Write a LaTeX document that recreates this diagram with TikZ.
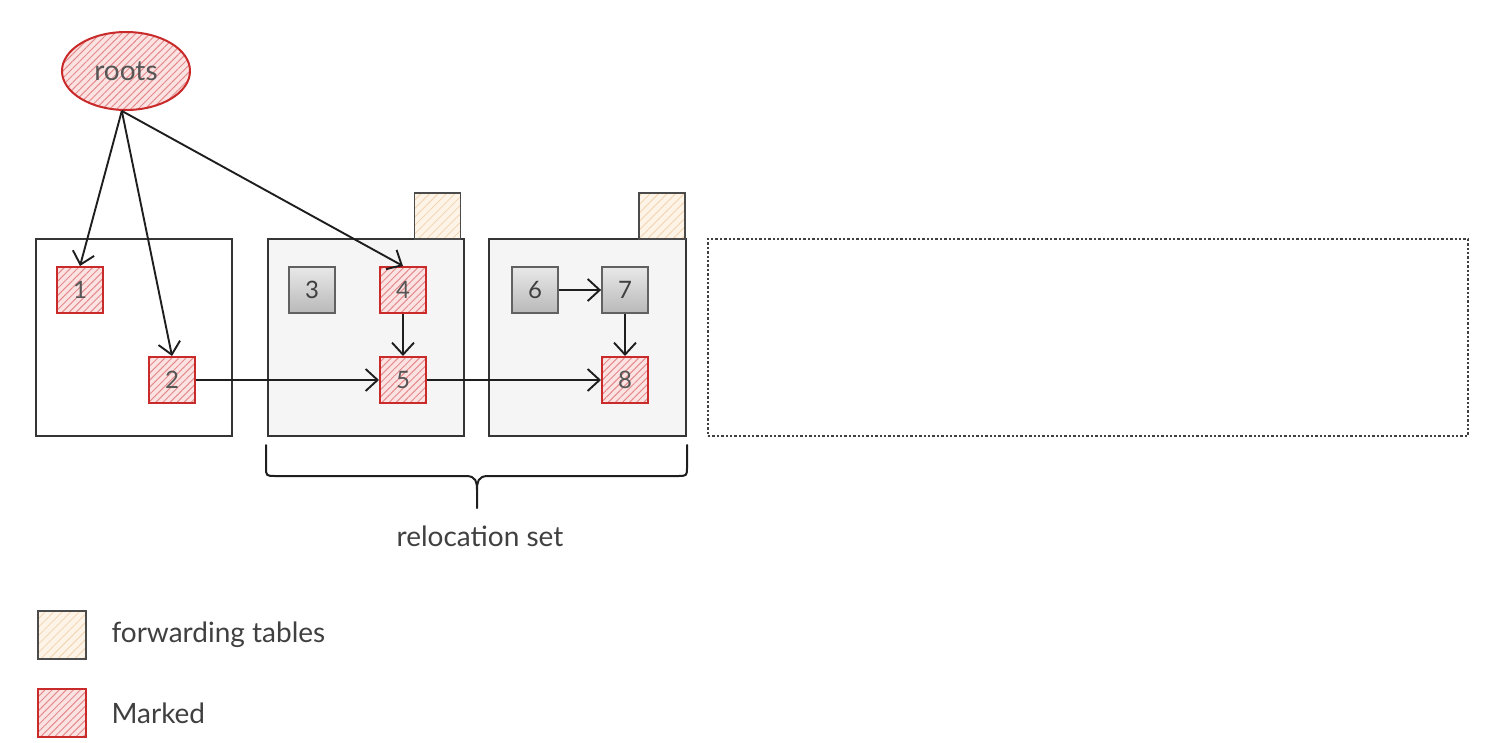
\documentclass[tikz,border=0pt]{standalone}
\usepackage{fontspec}
\setmainfont{Lato}
\usetikzlibrary{arrows.meta,patterns.meta,shapes.geometric}
\definecolor{mred}{HTML}{C92A2A}
\definecolor{mpink}{HTML}{FCE3E3}
\definecolor{hred}{HTML}{E58A8A}
\definecolor{dline}{HTML}{1E1E1E}
\definecolor{cream}{HTML}{FDF3E6}
\definecolor{hcream}{HTML}{F2D3B0}
\definecolor{lgray}{HTML}{F5F5F5}
\tikzset{
  redfill/.style={preaction={fill=mpink}, pattern={Lines[angle=45,distance=5pt,line width=1pt]}, pattern color=hred},
  marked/.style={redfill, draw=mred, line width=2pt, minimum size=46pt, inner sep=0pt,
    font=\fontsize{24}{26}\selectfont, text=dline!75},
  grayobj/.style={draw=dline!70, line width=1.8pt, top color=gray!18, bottom color=gray!55,
    minimum size=46pt, inner sep=0pt, font=\fontsize{24}{26}\selectfont, text=dline!85},
  region/.style={draw=dline!90, line width=2pt},
  fwd/.style={preaction={fill=cream}, pattern={Lines[angle=45,distance=6pt,line width=0.8pt]}, pattern color=hcream,
    draw=dline!80, line width=1.8pt},
  conn/.style={draw=dline, line width=1.9pt, -{Straight Barb[length=12pt,width=22pt,line width=1.9pt]}},
  lbl/.style={font=\fontsize{28}{30}\selectfont, text=dline!85}
}
\begin{document}
\begin{tikzpicture}[x=1pt,y=-1pt]
\useasboundingbox (0,0) rectangle (1498,742);
% regions
\node[region, fill=white, minimum width=196pt, minimum height=197pt, inner sep=0pt] (rA) at (134,337.5) {};
\node[region, fill=lgray, minimum width=196pt, minimum height=197pt, inner sep=0pt] (rB) at (365.5,337.5) {};
\node[region, fill=lgray, minimum width=197pt, minimum height=197pt, inner sep=0pt] (rC) at (587.5,337.5) {};
\node[draw=dline!85, line width=2.4pt, dotted, minimum width=760pt, minimum height=197pt, inner sep=0pt] (rD) at (1088,337.5) {};
% forwarding tables
\node[fwd, minimum size=46pt, inner sep=0pt] (fB) at (437.5,216) {};
\node[fwd, minimum size=46pt, inner sep=0pt] (fC) at (662,216) {};
% roots
\node[ellipse, redfill, draw=mred, line width=2pt, minimum width=128pt, minimum height=78pt,
  font=\fontsize{28}{30}\selectfont, text=dline!75] (roots) at (126,71) {roots};
% objects
\node[marked] (n1) at (80,290) {1};
\node[marked] (n2) at (172,380) {2};
\node[grayobj] (n3) at (312,290) {3};
\node[marked] (n4) at (403,290) {4};
\node[marked] (n5) at (403,380) {5};
\node[grayobj] (n6) at (535,290) {6};
\node[grayobj] (n7) at (625,290) {7};
\node[marked] (n8) at (625,380) {8};
% connectors
\draw[conn] (roots.-96) -- (n1.north);
\draw[conn] (roots.-96) -- (n2.north);
\draw[conn] (roots.-96) -- (n4.north);
\draw[conn] (n2.east) -- (n5.west);
\draw[conn] (n4.south) -- (n5.north);
\draw[conn] (n5.east) -- (n8.west);
\draw[conn] (n6.east) -- (n7.west);
\draw[conn] (n7.south) -- (n8.north);
% brace
\coordinate (bl) at (266,445);
\coordinate (br) at (687,445);
\coordinate (btip) at (477,508);
\draw[dline, line width=2pt, line cap=round, line join=round]
  (bl) -- (266,467) .. controls (266,476) .. (276,476) -- (466,476)
  .. controls (476,476) and (477,482) .. (477,490) -- (btip);
\draw[dline, line width=2pt, line cap=round, line join=round]
  (br) -- (687,467) .. controls (687,476) .. (677,476) -- (488,476)
  .. controls (478,476) and (477,482) .. (477,490);
\node[lbl] (rel) at (480,536) {relocation set};
% legend
\node[fwd, minimum size=48pt, inner sep=0pt] (lg1) at (62,635) {};
\node[lbl, anchor=west] (lt1) at (108,635) {forwarding tables};
\node[marked, minimum size=48pt] (lg2) at (62,713) {};
\node[lbl, anchor=west] (lt2) at (108,713) {Marked};
\end{tikzpicture}
\end{document}
